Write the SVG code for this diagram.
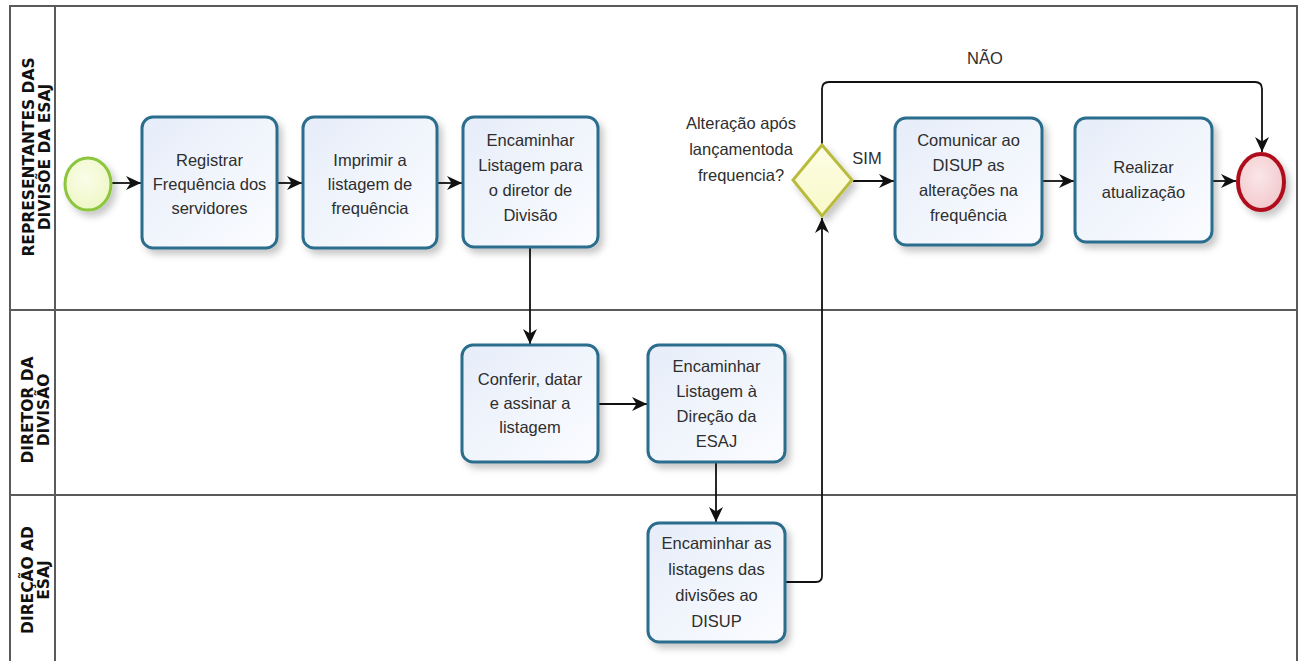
<svg xmlns="http://www.w3.org/2000/svg" width="1302" height="661" viewBox="0 0 1302 661">
  <defs>
    <linearGradient id="taskFill" x1="0" y1="0" x2="1" y2="1">
      <stop offset="0" stop-color="#e6edf9"/>
      <stop offset="1" stop-color="#fbfcff"/>
    </linearGradient>
    <radialGradient id="startFill" cx="0.45" cy="0.4" r="0.6">
      <stop offset="0" stop-color="#fbfde9"/>
      <stop offset="1" stop-color="#eef7c6"/>
    </radialGradient>
    <radialGradient id="endFill" cx="0.45" cy="0.4" r="0.6">
      <stop offset="0" stop-color="#fbe6e8"/>
      <stop offset="1" stop-color="#f2c9cd"/>
    </radialGradient>
    <linearGradient id="gwFill" x1="0" y1="0" x2="0" y2="1">
      <stop offset="0" stop-color="#fdfde6"/>
      <stop offset="1" stop-color="#f9f9c9"/>
    </linearGradient>
    <filter id="shadow" x="-20%" y="-20%" width="150%" height="150%">
      <feDropShadow dx="4" dy="5" stdDeviation="3.5" flood-color="#000" flood-opacity="0.22"/>
    </filter>
    <marker id="arrow" markerUnits="userSpaceOnUse" markerWidth="16" markerHeight="16" refX="15" refY="8" orient="auto">
      <path d="M0,1 L15,8 L0,15 L4.5,8 Z" fill="#111"/>
    </marker>
  </defs>
  <style>
    .lane { fill: none; stroke: #5a5a5a; stroke-width: 2; }
    .laneLabel { font-family: "DejaVu Sans", "Liberation Sans", sans-serif; font-weight: bold; font-size: 15.5px; fill: #111; text-anchor: middle; }
    .task rect { fill: url(#taskFill); stroke: #2a6d8c; stroke-width: 3; filter: url(#shadow); }
    .label { font-family: "Liberation Sans", Arial, sans-serif; font-size: 16.5px; fill: #2e2e2e; text-anchor: middle; }
    .flow { fill: none; stroke: #111; stroke-width: 1.8; marker-end: url(#arrow); }
  </style>

  <rect width="1302" height="661" fill="#ffffff"/>

  <!-- pool and lanes -->
  <g id="pool">
    <path class="lane" d="M10,661 L10,6 L1297,6 L1297,661"/>
    <line class="lane" x1="55" y1="6" x2="55" y2="661"/>
    <line class="lane" x1="10" y1="310" x2="1297" y2="310"/>
    <line class="lane" x1="10" y1="495" x2="1297" y2="495"/>
    <text class="laneLabel" transform="translate(34,157) rotate(-90)">REPRESENTANTES DAS</text>
    <text class="laneLabel" transform="translate(49.5,157) rotate(-90)">DIVISÕE DA ESAJ</text>
    <text class="laneLabel" transform="translate(33,410) rotate(-90)">DIRETOR DA</text>
    <text class="laneLabel" transform="translate(48.5,410) rotate(-90)">DIVISÃO</text>
    <text class="laneLabel" transform="translate(33,580) rotate(-90)">DIREÇÃO AD</text>
    <text class="laneLabel" transform="translate(48.5,580) rotate(-90)">ESAJ</text>
  </g>

  <!-- sequence flows -->
  <g id="connectors">
    <line class="flow" x1="112" y1="183" x2="141" y2="183"/>
    <line class="flow" x1="278" y1="183" x2="302" y2="183"/>
    <line class="flow" x1="438" y1="183" x2="462" y2="183"/>
    <line class="flow" x1="530" y1="248" x2="530" y2="344"/>
    <line class="flow" x1="599" y1="404" x2="647" y2="404"/>
    <line class="flow" x1="716" y1="463" x2="716" y2="522"/>
    <path class="flow" d="M786,582 L816,582 Q822,582 822,576 L822,218"/>
    <path class="flow" d="M853,181 L894,181"/>
    <path class="flow" d="M822,145 L822,89 Q822,82 829,82 L1255,82 Q1262,82 1262,89 L1262,152"/>
    <line class="flow" x1="1043" y1="181" x2="1074" y2="181"/>
    <line class="flow" x1="1213" y1="181" x2="1236" y2="181"/>
    <text class="label" x="867" y="164">SIM</text>
    <text class="label" x="985" y="64">NÃO</text>
  </g>

  <!-- start event -->
  <g id="start">
    <ellipse cx="88" cy="184" rx="23" ry="26" fill="url(#startFill)" stroke="#8cc63e" stroke-width="3" filter="url(#shadow)"/>
  </g>

  <g id="task-registrar" class="task">
    <rect x="142" y="117" width="135" height="131" rx="11"/>
    <text class="label" x="209.5" y="166">Registrar</text>
    <text class="label" x="209.5" y="190">Frequência dos</text>
    <text class="label" x="209.5" y="214">servidores</text>
  </g>

  <g id="task-imprimir" class="task">
    <rect x="303" y="117" width="134" height="131" rx="11"/>
    <text class="label" x="370" y="166">Imprimir a</text>
    <text class="label" x="370" y="190">listagem de</text>
    <text class="label" x="370" y="214">frequência</text>
  </g>

  <g id="task-encaminhar-diretor" class="task">
    <rect x="463" y="117" width="135" height="130" rx="11"/>
    <text class="label" x="530.5" y="146">Encaminhar</text>
    <text class="label" x="530.5" y="171">Listagem para</text>
    <text class="label" x="530.5" y="196">o diretor de</text>
    <text class="label" x="530.5" y="221">Divisão</text>
  </g>

  <g id="gateway">
    <path d="M822,145 L852,180 L822,216 L793,180 Z" fill="url(#gwFill)" stroke="#b9bb3c" stroke-width="3" stroke-linejoin="miter" filter="url(#shadow)"/>
    <text class="label" x="741" y="129">Alteração após</text>
    <text class="label" x="741" y="155">lançamentoda</text>
    <text class="label" x="741" y="181">frequencia?</text>
  </g>

  <g id="task-comunicar" class="task">
    <rect x="895" y="118" width="147" height="127" rx="11"/>
    <text class="label" x="968.5" y="146">Comunicar ao</text>
    <text class="label" x="968.5" y="171">DISUP as</text>
    <text class="label" x="968.5" y="196">alterações na</text>
    <text class="label" x="968.5" y="221">frequência</text>
  </g>

  <g id="task-realizar" class="task">
    <rect x="1075" y="118" width="137" height="124" rx="11"/>
    <text class="label" x="1143.5" y="173">Realizar</text>
    <text class="label" x="1143.5" y="198">atualização</text>
  </g>

  <g id="end">
    <ellipse cx="1261" cy="182" rx="23" ry="28" fill="url(#endFill)" stroke="#b0101c" stroke-width="4" filter="url(#shadow)"/>
  </g>

  <g id="task-conferir" class="task">
    <rect x="462" y="345" width="136" height="117" rx="11"/>
    <text class="label" x="530" y="385">Conferir, datar</text>
    <text class="label" x="530" y="409">e assinar a</text>
    <text class="label" x="530" y="433">listagem</text>
  </g>

  <g id="task-encaminhar-direcao" class="task">
    <rect x="648" y="345" width="137" height="117" rx="11"/>
    <text class="label" x="716.5" y="372">Encaminhar</text>
    <text class="label" x="716.5" y="397">Listagem à</text>
    <text class="label" x="716.5" y="422">Direção da</text>
    <text class="label" x="716.5" y="447">ESAJ</text>
  </g>

  <g id="task-encaminhar-disup" class="task">
    <rect x="648" y="523" width="137" height="119" rx="11"/>
    <text class="label" x="716.5" y="549">Encaminhar as</text>
    <text class="label" x="716.5" y="575">listagens das</text>
    <text class="label" x="716.5" y="601">divisões ao</text>
    <text class="label" x="716.5" y="627">DISUP</text>
  </g>
</svg>
